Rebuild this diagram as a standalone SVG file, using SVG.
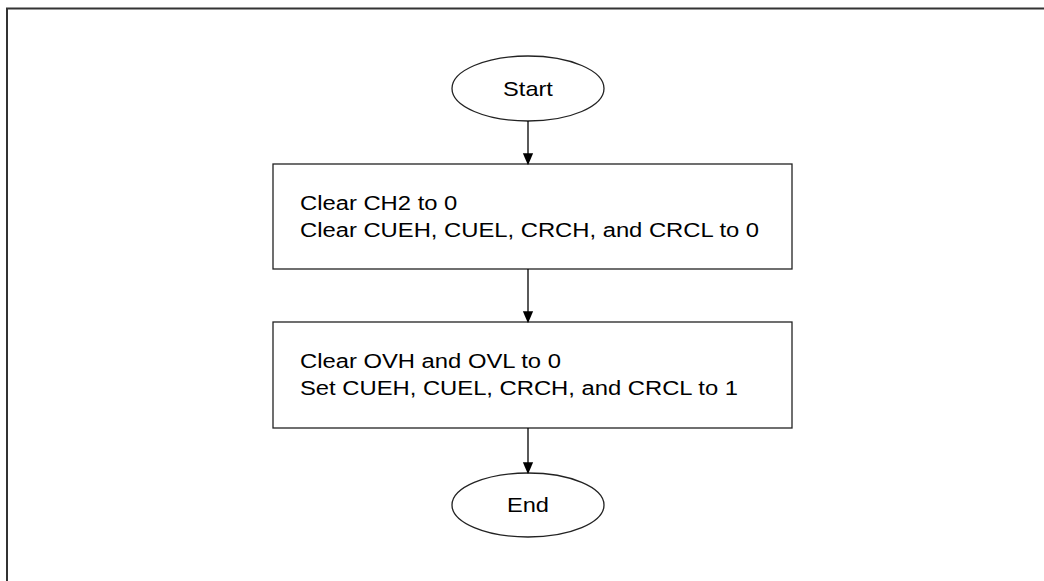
<svg xmlns="http://www.w3.org/2000/svg" width="1044" height="581" viewBox="0 0 1044 581">
<defs>
<marker id="arr" markerWidth="12" markerHeight="14" refX="12" refY="6" orient="auto" markerUnits="userSpaceOnUse" viewBox="0 0 14 12">
<path d="M0,0 L14,6 L0,12 Z" fill="#000"/>
</marker>
</defs>
<style>
.frame{fill:none;stroke:#333;stroke-width:2}
.shape{fill:#fff;stroke:#222;stroke-width:1.3}
.lbl{font-family:"Liberation Sans",Arial,sans-serif;font-size:20px;fill:#000}
.conn{stroke:#000;stroke-width:1.3;fill:none}
</style>
<rect width="1044" height="581" fill="#fff"/>
<rect class="frame" x="7" y="8.5" width="1050" height="590"/>
<g id="start">
<ellipse class="shape" cx="528" cy="88.5" rx="76" ry="32.5"/>
<text class="lbl" transform="matrix(1.18,0,0,1,528,0)" x="0" y="96" text-anchor="middle">Start</text>
</g>
<g id="step1">
<rect class="shape" x="273" y="164" width="519" height="105"/>
<text class="lbl" transform="matrix(1.19,0,0,1,300,0)" x="0" y="210">Clear CH2 to 0</text>
<text class="lbl" transform="matrix(1.19,0,0,1,300,0)" x="0" y="237">Clear CUEH, CUEL, CRCH, and CRCL to 0</text>
</g>
<g id="step2">
<rect class="shape" x="273" y="322" width="519" height="106"/>
<text class="lbl" transform="matrix(1.19,0,0,1,300,0)" x="0" y="368.5">Clear OVH and OVL to 0</text>
<text class="lbl" transform="matrix(1.19,0,0,1,300,0)" x="0" y="395.5">Set CUEH, CUEL, CRCH, and CRCL to 1</text>
</g>
<g id="end">
<ellipse class="shape" cx="528" cy="505" rx="76" ry="32"/>
<text class="lbl" transform="matrix(1.18,0,0,1,528,0)" x="0" y="512" text-anchor="middle">End</text>
</g>
<g id="connectors">
<line class="conn" x1="528" y1="121" x2="528" y2="163.5" marker-end="url(#arr)"/>
<line class="conn" x1="528" y1="269" x2="528" y2="321.5" marker-end="url(#arr)"/>
<line class="conn" x1="528" y1="428" x2="528" y2="472.5" marker-end="url(#arr)"/>
</g>
</svg>
